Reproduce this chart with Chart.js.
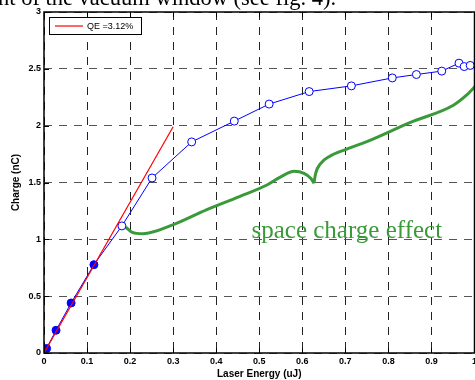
<!DOCTYPE html>
<html>
<head>
<meta charset="utf-8">
<script src="https://cdn.jsdelivr.net/npm/chart.js@4"></script>
<style>
  html, body { margin: 0; padding: 0; background: #fff; overflow: hidden; }
  canvas { display: block; }
</style>
</head>
<body>
<canvas id="chart" width="480" height="380"></canvas>
<script>
// mediciones: energía del láser (uJ) y carga (nC)
const energy = [0.006, 0.028, 0.063, 0.116, 0.181, 0.251, 0.343, 0.442, 0.523, 0.616, 0.714, 0.809, 0.865, 0.924, 0.964, 0.976, 0.990];
const charge = [0.04, 0.20, 0.44, 0.777, 1.118, 1.54, 1.857, 2.04, 2.19, 2.30, 2.35, 2.42, 2.45, 2.48, 2.55, 2.52, 2.53];
const filledCount = 4; // los primeros puntos van rellenos

// ajuste lineal QE
const qeX = [0, 0.3];
const qeY = [0, 1.99];
const qeLabel = "QE =3.12%";

// llave verde (dos mitades, el pico en medio)
const braceLeftX = [0.190, 0.205, 0.230, 0.299, 0.377, 0.454, 0.519, 0.550, 0.581, 0.604, 0.620, 0.627];
const braceLeftY = [1.106, 1.062, 1.050, 1.127, 1.259, 1.376, 1.480, 1.550, 1.598, 1.580, 1.535, 1.493];
const braceRightX = [0.627, 0.631, 0.643, 0.662, 0.700, 0.750, 0.850, 0.951, 0.982, 1.005];
const braceRightY = [1.493, 1.581, 1.669, 1.727, 1.790, 1.860, 2.027, 2.180, 2.270, 2.360];
const annotText = "space charge effect";
const annotPos = [0.482, 1.015];

const xTicks = [0, 0.1, 0.2, 0.3, 0.4, 0.5, 0.6, 0.7, 0.8, 0.9, 1];
const yTicks = [0, 0.5, 1, 1.5, 2, 2.5, 3];

const pageText = "nt of the vacuum window (see fig. 4).";

const green = "#3a9a3a";

function toXY(xs, ys) {
  return xs.map((x, i) => ({ x: x, y: ys[i] }));
}

// marco, ticks hacia dentro, leyenda y textos
const extras = {
  id: "extras",
  afterDraw(chart) {
    const ctx = chart.ctx;
    const a = chart.chartArea;
    const sx = chart.scales.x, sy = chart.scales.y;
    ctx.save();

    // texto del anotado
    ctx.fillStyle = green;
    ctx.font = "25px 'Liberation Serif'";
    ctx.textBaseline = "alphabetic";
    ctx.textAlign = "left";
    ctx.fillText(annotText, sx.getPixelForValue(annotPos[0]), sy.getPixelForValue(annotPos[1]));

    // ticks hacia dentro
    ctx.strokeStyle = "#000";
    ctx.lineWidth = 1;
    ctx.beginPath();
    xTicks.forEach(v => {
      const px = Math.round(sx.getPixelForValue(v)) + 0.5;
      ctx.moveTo(px, a.bottom); ctx.lineTo(px, a.bottom - 5);
      ctx.moveTo(px, a.top); ctx.lineTo(px, a.top + 5);
    });
    yTicks.forEach(v => {
      const py = Math.round(sy.getPixelForValue(v)) + 0.5;
      ctx.moveTo(a.left, py); ctx.lineTo(a.left + 5, py);
    });
    ctx.stroke();

    // marco
    ctx.lineWidth = 1.5;
    ctx.strokeRect(a.left, a.top, a.right - a.left, a.bottom - a.top);

    // leyenda
    ctx.fillStyle = "#fff";
    ctx.fillRect(49.5, 17.5, 92, 17);
    ctx.lineWidth = 1;
    ctx.strokeStyle = "#000";
    ctx.strokeRect(49.5, 17.5, 92, 17);
    ctx.strokeStyle = "#ff0000";
    ctx.lineWidth = 1.2;
    ctx.beginPath();
    ctx.moveTo(55, 26); ctx.lineTo(83, 26);
    ctx.stroke();
    ctx.fillStyle = "#000";
    ctx.font = "9px 'Liberation Sans'";
    ctx.textBaseline = "middle";
    ctx.fillText(qeLabel, 87, 26.5);

    // texto del documento cortado arriba
    ctx.font = "22.5px 'Liberation Serif'";
    ctx.textAlign = "left";
    ctx.textBaseline = "alphabetic";
    ctx.fillText(pageText, -2, 5);

    ctx.restore();
  }
};

new Chart(document.getElementById("chart"), {
  type: "line",
  data: {
    datasets: [
      {
        label: qeLabel,
        data: toXY(qeX, qeY),
        borderColor: "#ff0000",
        borderWidth: 1.2,
        pointRadius: 0,
        tension: 0
      },
      {
        label: "Charge",
        data: toXY(energy, charge),
        borderColor: "#0000ff",
        borderWidth: 1,
        pointRadius: 4,
        pointBorderWidth: 1,
        pointBorderColor: "#0000ff",
        pointBackgroundColor: c => c.dataIndex < filledCount ? "#0000ff" : "#ffffff",
        tension: 0
      },
      {
        label: "brace-left",
        data: toXY(braceLeftX, braceLeftY),
        borderColor: green,
        borderWidth: 3,
        pointRadius: 0,
        cubicInterpolationMode: "monotone"
      },
      {
        label: "brace-right",
        data: toXY(braceRightX, braceRightY),
        borderColor: green,
        borderWidth: 3,
        pointRadius: 0,
        cubicInterpolationMode: "monotone"
      }
    ]
  },
  options: {
    responsive: false,
    animation: false,
    devicePixelRatio: 1,
    layout: { padding: { top: 12, right: 4, left: 0, bottom: 0 } },
    plugins: {
      legend: { display: false },
      tooltip: { enabled: false }
    },
    scales: {
      x: {
        type: "linear",
        min: 0,
        max: 1,
        afterFit: s => { s.height = 27; },
        afterBuildTicks: s => { s.ticks = xTicks.map(v => ({ value: v })); },
        ticks: {
          padding: 3,
          autoSkip: false,
          maxRotation: 0,
          color: "#000",
          font: { family: "Liberation Sans", size: 9, weight: "bold" },
          callback: v => String(+v.toFixed(2))
        },
        grid: { color: "#222", lineWidth: 1, drawTicks: false },
        border: { display: false, dash: [8, 7] },
        title: {
          display: true,
          text: "Laser Energy (uJ)",
          color: "#000",
          font: { family: "Liberation Sans", size: 10, weight: "bold" },
          padding: { top: 0, bottom: 0 }
        }
      },
      y: {
        type: "linear",
        min: 0,
        max: 3,
        afterFit: s => { s.width = 44; },
        afterBuildTicks: s => { s.ticks = yTicks.map(v => ({ value: v })); },
        ticks: {
          padding: 3,
          color: "#000",
          font: { family: "Liberation Sans", size: 9, weight: "bold" },
          callback: v => String(+v.toFixed(2))
        },
        grid: { color: "#555", lineWidth: 1, drawTicks: false },
        border: { display: false, dash: [8, 7] },
        title: {
          display: true,
          text: "Charge (nC)",
          color: "#000",
          font: { family: "Liberation Sans", size: 10, weight: "bold" },
          padding: { top: 10, bottom: 0 }
        }
      }
    }
  },
  plugins: [extras]
});
</script>
</body>
</html>
